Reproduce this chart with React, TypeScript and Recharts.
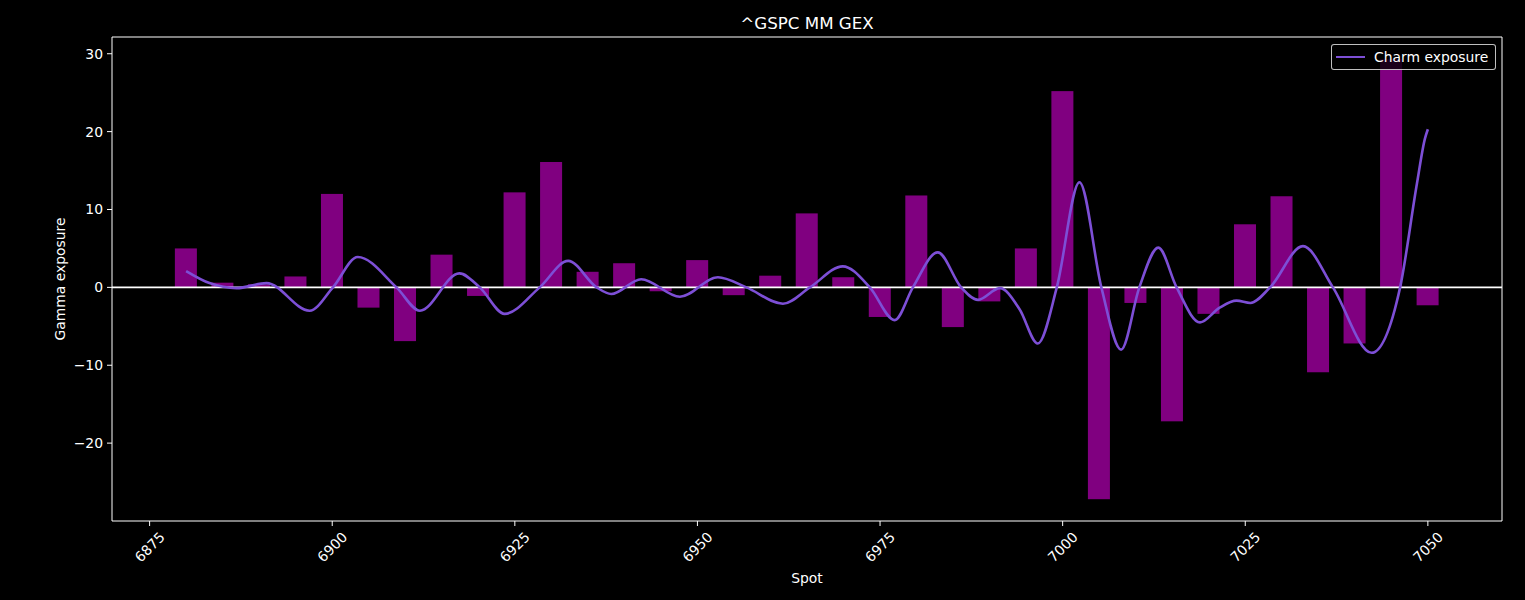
import React from "react";
import {
  ComposedChart, Bar, Line, XAxis, YAxis, ReferenceLine, ReferenceArea, Legend,
} from "recharts";

// strikes and market-maker gamma exposure per strike
const strikes = [
  6880, 6885, 6890, 6895, 6900, 6905, 6910, 6915, 6920, 6925, 6930, 6935,
  6940, 6945, 6950, 6955, 6960, 6965, 6970, 6975, 6980, 6985, 6990, 6995,
  7000, 7005, 7010, 7015, 7020, 7025, 7030, 7035, 7040, 7045, 7050,
];
const gammaExposure = [
  5.0, 0.6, 0.4, 1.4, 12.0, -2.6, -6.9, 4.2, -1.1, 12.2, 16.1, 2.0,
  3.1, -0.5, 3.5, -1.0, 1.5, 9.5, 1.3, -3.8, 11.8, -5.1, -1.8, 5.0,
  25.2, -27.2, -2.0, -17.2, -3.4, 8.1, 11.7, -10.9, -7.2, 29.3, -2.3,
];

// charm exposure curve
const charmSpots = [
  6880, 6883.2, 6886.9, 6891.0, 6896.9, 6900.1, 6903.5, 6908.8, 6912.0, 6917.4,
  6920.2, 6923.6, 6928.4, 6932.3, 6936.2, 6938.2, 6942.3, 6947.6, 6952.8, 6956.7,
  6961.7, 6965.4, 6969.9, 6973.6, 6977.0, 6979.5, 6982.9, 6986.1, 6988.4, 6991.4,
  6994.1, 6996.6, 6999.2, 7002.3, 7005.3, 7008.0, 7010.5, 7013.1, 7015.6, 7018.8,
  7021.5, 7023.8, 7025.7, 7028.4, 7032.9, 7037.0, 7042.3, 7046.2, 7048.5, 7049.6,
  7050.0,
];
const charmValues = [
  2.1, 0.55, -0.1, 0.55, -3.0, 0, 3.9, 0, -3.0, 1.8,
  0, -3.4, 0, 3.4, 0, -0.85, 1.05, -1.2, 1.3, 0,
  -2.1, 0, 2.7, 0, -4.2, 0, 4.5, 0, -1.6, -0.1,
  -2.8, -7.2, 0, 13.5, 0, -8.0, 0, 5.1, 0, -4.5,
  -2.6, -1.7, -2.0, 0, 5.3, 0, -8.4, 0, 13.3, 19.1,
  20.3,
];

const xTicks = [6875, 6900, 6925, 6950, 6975, 7000, 7025, 7050];
const yTicks = [-20, -10, 0, 10, 20, 30];

const X_DOMAIN: [number, number] = [6869.85, 7060.15];
const Y_DOMAIN: [number, number] = [-30.0, 32.15];

const FONT = "'DejaVu Sans', sans-serif";
const BAR_COLOR = "#800080";
const LINE_COLOR = "#7d4fd6";
const BAR_WIDTH = 22; // 3 strike units wide

const gexRows = strikes.map((spot, i) => ({ spot, gex: gammaExposure[i] }));
const charmRows = charmSpots.map((spot, i) => ({ spot, charm: charmValues[i] }));

const fmtMinus = (v: number) => (v < 0 ? `\u2212${Math.abs(v)}` : `${v}`);

const RotatedTick = ({ x, y, payload }: any) => {
  const cy = y + 19;
  return (
    <text
      x={x}
      y={cy}
      transform={`rotate(-45, ${x}, ${cy})`}
      textAnchor="middle"
      dominantBaseline="central"
      fill="#fff"
      fontSize={13.9}
      fontFamily={FONT}
    >
      {payload.value}
    </text>
  );
};

// keep every bar centred on its strike at a fixed width
const GexBar = (props: any) => {
  const { x, y, width, height, fill } = props;
  const cx = x + width / 2;
  const top = height < 0 ? y + height : y;
  return <rect x={cx - BAR_WIDTH / 2} y={top} width={BAR_WIDTH} height={Math.abs(height)} fill={fill} />;
};

const LegendBox = () => (
  <div
    style={{
      boxSizing: "border-box",
      width: 165,
      height: 26,
      border: "1px solid rgba(255,255,255,0.75)",
      borderRadius: 3,
      background: "rgba(0,0,0,0.8)",
      display: "flex",
      alignItems: "center",
      fontFamily: FONT,
      fontSize: 13.9,
      color: "#fff",
    }}
  >
    <span style={{ display: "inline-block", width: 29, height: 2.6, marginLeft: 4, background: LINE_COLOR }} />
    <span style={{ marginLeft: 9, whiteSpace: "nowrap" }}>Charm exposure</span>
  </div>
);

export default function App() {
  return (
    <div style={{ position: "relative", width: 1525, height: 600, background: "#000" }}>
      <style>{"body{margin:0;background:#000}"}</style>
      <div
        style={{
          position: "absolute", left: 112, width: 1390, top: 13, height: 20,
          lineHeight: "20px", textAlign: "center", color: "#fff",
          fontFamily: FONT, fontSize: 16.7, zIndex: 2,
        }}
      >
        ^GSPC MM GEX
      </div>
      <ComposedChart
        width={1525}
        height={600}
        data={gexRows}
        margin={{ top: 37, right: 23, bottom: 0, left: 52 }}
      >
        <XAxis
          xAxisId="bars"
          dataKey="spot"
          type="number"
          domain={X_DOMAIN}
          allowDataOverflow
          ticks={xTicks}
          interval={0}
          height={79}
          tickSize={5}
          axisLine={false}
          tickLine={{ stroke: "#fff" }}
          tick={<RotatedTick />}
          label={{
            value: "Spot",
            content: ({ viewBox }: any) => (
              <text
                x={viewBox.x + viewBox.width / 2}
                y={viewBox.y + 57}
                textAnchor="middle"
                dominantBaseline="central"
                fill="#fff"
                fontSize={13.9}
                fontFamily={FONT}
              >
                Spot
              </text>
            ),
          }}
        />
        <XAxis
          xAxisId="charm"
          dataKey="spot"
          type="number"
          domain={X_DOMAIN}
          allowDataOverflow
          hide
        />
        <YAxis
          type="number"
          domain={Y_DOMAIN}
          allowDataOverflow
          ticks={yTicks}
          interval={0}
          width={60}
          tickSize={5}
          tickMargin={4}
          axisLine={false}
          tickLine={{ stroke: "#fff" }}
          tick={{ fill: "#fff", fontSize: 13.9, fontFamily: FONT }}
          tickFormatter={fmtMinus}
          label={{
            value: "Gamma exposure",
            content: ({ viewBox }: any) => {
              const lx = viewBox.x + 8;
              const ly = viewBox.y + viewBox.height / 2;
              return (
                <text
                  x={lx}
                  y={ly}
                  transform={`rotate(-90, ${lx}, ${ly})`}
                  textAnchor="middle"
                  dominantBaseline="central"
                  fill="#fff"
                  fontSize={13.9}
                  fontFamily={FONT}
                >
                  Gamma exposure
                </text>
              );
            },
          }}
        />
        <ReferenceArea
          xAxisId="bars"
          x1={X_DOMAIN[0]}
          x2={X_DOMAIN[1]}
          y1={Y_DOMAIN[0]}
          y2={Y_DOMAIN[1]}
          fill="none"
          fillOpacity={0}
          stroke="#fff"
          strokeWidth={1}
          ifOverflow="visible"
        />
        <Bar
          xAxisId="bars"
          dataKey="gex"
          fill={BAR_COLOR}
          barSize={BAR_WIDTH}
          shape={<GexBar />}
          isAnimationActive={false}
          legendType="none"
        />
        <ReferenceLine xAxisId="bars" y={0} stroke="#fff" strokeWidth={1.8} />
        <Line
          xAxisId="charm"
          data={charmRows}
          dataKey="charm"
          name="Charm exposure"
          type="monotone"
          stroke={LINE_COLOR}
          strokeWidth={2.6}
          dot={false}
          activeDot={false}
          isAnimationActive={false}
        />
        <Legend
          layout="horizontal"
          verticalAlign="middle"
          align="center"
          wrapperStyle={{ position: "absolute", top: 44, left: 1331, width: 165, height: 26 }}
          content={() => <LegendBox />}
        />
      </ComposedChart>
    </div>
  );
}
